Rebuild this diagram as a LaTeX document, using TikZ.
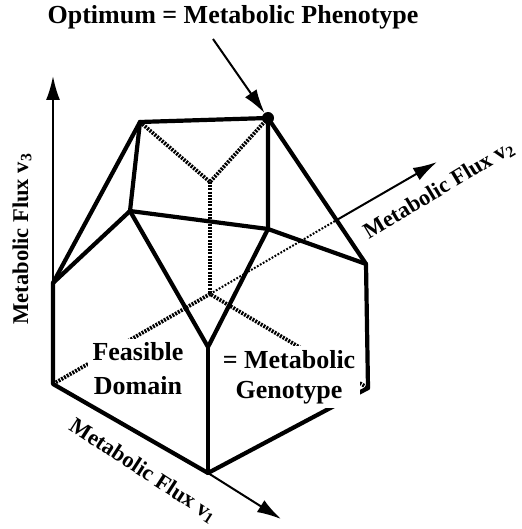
\documentclass[tikz,border=0pt]{standalone}
\usepackage{fontspec}
\setmainfont{Liberation Serif}
\usetikzlibrary{arrows.meta,calc}
\begin{document}
\begin{tikzpicture}[x=1pt,y=-1pt,
  edge/.style={line width=4.2pt,line cap=round,line join=round},
  hidden/.style={line width=3.8pt,dash pattern=on 2pt off 1.2pt},
  axisline/.style={line width=2pt},
  axisdot/.style={line width=2pt,dash pattern=on 1.8pt off 1.6pt},
  tip/.style={-{Latex[length=24pt,width=14pt]}},
  lab/.style={font=\bfseries\fontsize{26}{30}\selectfont},
  axlab/.style={font=\bfseries\fontsize{22.5}{26}\selectfont},
  boxlab/.style={lab,fill=white,align=center,inner xsep=5pt,inner ysep=4pt}]
\useasboundingbox (0,0) rectangle (521,529);
% vertices
\coordinate (A) at (140,122);
\coordinate (O) at (268,118);
\coordinate (H) at (210,182);
\coordinate (B) at (130,211);
\coordinate (C) at (268,229);
\coordinate (R) at (366,264);
\coordinate (L) at (53,283);
\coordinate (V) at (208,347);
\coordinate (H2) at (210,294);
\coordinate (BL) at (53,384);
\coordinate (B0) at (208,473);
\coordinate (RB) at (368,388);
% axis tips
\coordinate (T3) at (53,76);
\coordinate (T2) at (437,162);
\coordinate (T1) at (281,519);
\coordinate (X) at (intersection of BL--T2 and O--R);
% hidden edges
\draw[hidden] (A) -- (H) -- (O);
\draw[hidden] (H) -- (H2);
\draw[hidden] (BL) -- (H2) -- (RB);
% axes
\draw[axisdot] (H2) -- (X);
\draw[axisline,tip] (X) -- (T2);
\draw[axisline,tip] (L) -- (T3);
\draw[axisline,tip] (B0) -- (T1);
% visible edges
\draw[edge] (A) -- (O) -- (C);
\draw[edge] (O) -- (R) -- (RB);
\draw[edge] (A) -- (B);
\draw[edge] (A) -- (L) -- (BL) -- (B0) -- (RB);
\draw[edge] (B) -- (L);
\draw[edge] (B) -- (C) -- (R);
\draw[edge] (B) -- (V) -- (C);
\draw[edge] (V) -- (B0);
% optimum
\fill (O) circle (6pt);
\node[lab] (title) at (233,17) {Optimum = Metabolic Phenotype};
\coordinate (S) at (213,39);
\draw[line width=2pt,tip] (S) -- ($(O)!6pt!(S)$);
% text labels
\node[boxlab] (feas) at (138,369) {Feasible\\[4pt]Domain};
\node[boxlab] (geno) at (289,377) {= Metabolic\\Genotype};
\node[axlab,rotate=90] (l3) at (22,239) {Metabolic Flux v\textsubscript{3}};
\node[axlab,rotate=31] (l2) at (439,190) {Metabolic Flux v\textsubscript{2}};
\node[axlab,rotate=-33] (l1) at (143,471) {Metabolic Flux v\textsubscript{1}};
\end{tikzpicture}
\end{document}
